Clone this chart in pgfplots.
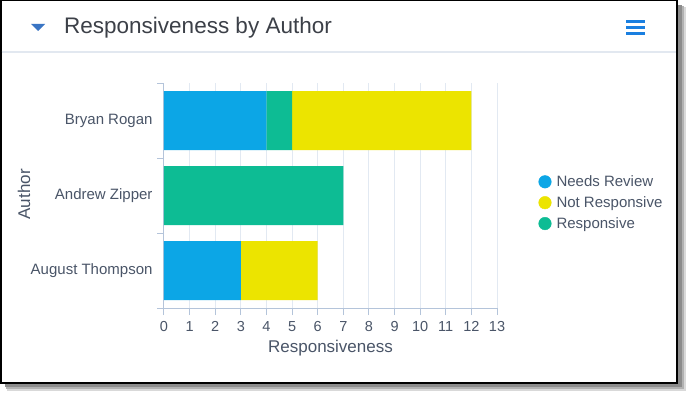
\documentclass[border=0pt]{standalone}
\usepackage{fontspec}
\setmainfont{Liberation Sans}
\usepackage{pgfplots}
\pgfplotsset{compat=1.18}
\definecolor{nrev}{RGB}{12,166,230}
\definecolor{resp}{RGB}{13,188,148}
\definecolor{notr}{RGB}{236,228,0}
\definecolor{textcol}{RGB}{74,85,104}
\definecolor{titlecol}{RGB}{60,64,72}
\definecolor{axiscol}{RGB}{180,196,218}
\definecolor{gridcol}{RGB}{226,233,242}
\definecolor{sepcol}{RGB}{226,232,240}
\definecolor{tricol}{RGB}{58,117,196}
\definecolor{hamcol}{RGB}{26,127,224}
\begin{document}
\begin{tikzpicture}[x=1pt,y=1pt]
\useasboundingbox (0,0) rectangle (693,400);
\fill[white] (0,0) rectangle (693,400);
% card shadow
\fill[black!15] (7,9) rectangle (686,393);
\fill[black!30] (6,11) rectangle (684,394);
\fill[black!45] (5,13) rectangle (682,395);
% card
\draw[black, line width=1.2pt, fill=white] (1,17) rectangle (677,399.4);
\draw[sepcol, line width=1pt] (1.6,348) -- (676.4,348);
% header
\fill[tricol] (31,376) -- (45,376) -- (38,369) -- cycle;
\node[anchor=west, text=titlecol, font=\fontsize{22.5}{27}\selectfont, inner sep=0pt] at (64,372.5) {Responsiveness by Author};
\fill[hamcol] (626,376.5) rectangle (645,379.5);
\fill[hamcol] (626,370.5) rectangle (645,373.5);
\fill[hamcol] (626,364.5) rectangle (645,367.5);
\begin{axis}[
  at={(164pt,92pt)}, anchor=south west,
  scale only axis, width=333pt, height=225pt,
  xbar stacked, bar width=59pt,
  xmin=0, xmax=13, ymin=-0.5, ymax=2.5,
  axis x line*=bottom, axis y line*=left,
  axis line style={axiscol, line width=1pt},
  tick style={axiscol, line width=1pt},
  tick align=outside, major tick length=7pt,
  xtick={0,...,13},
  ytick={-0.5,0.5,1.5,2.5}, yticklabels={},
  extra y ticks={0,1,2},
  extra y tick labels={August Thompson,Andrew Zipper,Bryan Rogan},
  extra y tick style={major tick length=0pt, yticklabel style={xshift=-8pt, font=\fontsize{15}{18}\selectfont}},
  xmajorgrids=true, major grid style={gridcol, line width=1pt},
  /pgf/number format/assume math mode=true,
  ticklabel style={font=\fontsize{14.5}{17}\selectfont, text=textcol},
  xticklabel style={yshift=-3pt},
  xlabel={Responsiveness}, ylabel={Author},
  label style={font=\fontsize{17}{20}\selectfont, text=textcol},
  xlabel style={at={(axis description cs:0.5,0)}, anchor=center, yshift=-40pt},
  ylabel style={at={(axis description cs:0,0.505)}, anchor=center, yshift=140pt},
  legend style={at={(axis description cs:1.115,0.607)}, anchor=north west,
    draw=none, fill=none, font=\fontsize{15}{18}\selectfont, text=textcol,
    row sep=4.5pt, /tikz/every even column/.append style={column sep=0pt},
    /tikz/every odd column/.append style={column sep=3pt}},
  legend cell align=left,
]
\addplot[fill=nrev, draw=none, forget plot] coordinates {(3,0) (0,1) (4,2)};
\addplot[fill=resp, draw=none, forget plot] coordinates {(0,0) (7,1) (1,2)};
\addplot[fill=notr, draw=none, forget plot] coordinates {(3,0) (0,1) (7,2)};
\addlegendimage{legend image code/.code={\fill[nrev] (0pt,0pt) circle (6.3pt);}}
\addlegendentry{Needs Review}
\addlegendimage{legend image code/.code={\fill[notr] (0pt,0pt) circle (6.3pt);}}
\addlegendentry{Not Responsive}
\addlegendimage{legend image code/.code={\fill[resp] (0pt,0pt) circle (6.3pt);}}
\addlegendentry{Responsive}
\end{axis}
\end{tikzpicture}
\end{document}
